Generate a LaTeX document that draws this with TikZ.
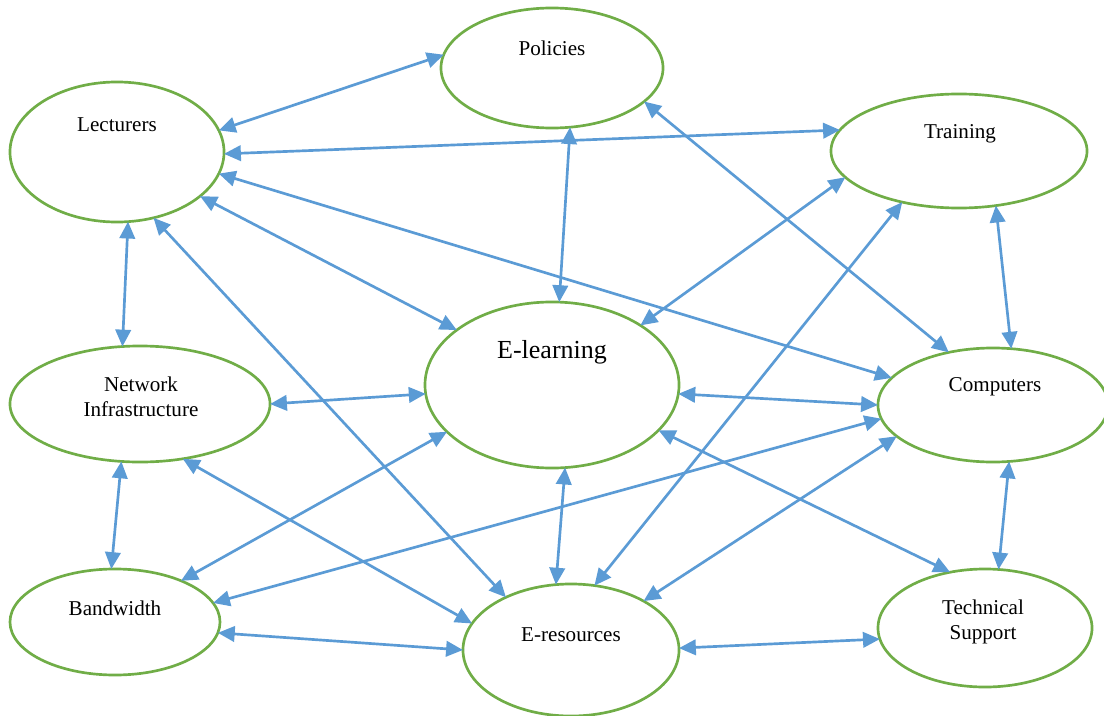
\documentclass[tikz,border=0pt]{standalone}
\usepackage{fontspec}
\setmainfont{Liberation Serif}
\usepackage{tikz}
\usetikzlibrary{shapes.geometric, arrows.meta}
\definecolor{leafgreen}{RGB}{112,173,71}
\definecolor{lineblue}{RGB}{91,155,213}

\begin{document}
\begin{tikzpicture}[x=0.025cm, y=-0.025cm, line join=round,
factor/.style={ellipse, draw=leafgreen, line width=1.9pt, inner sep=0pt, outer sep=0pt},
txt/.style={align=center, font=\fontsize{15pt}{17.5pt}\selectfont},
link/.style={{Triangle[length=12pt,width=11pt]}-{Triangle[length=12pt,width=11pt]},
draw=lineblue, line width=1.9pt}]
  \useasboundingbox (0,0) rectangle (1104,716);
  % top row
  \node[factor, minimum width=5.55cm, minimum height=3cm]    (pol) at (552,68)  {};
  \node[factor, minimum width=5.35cm, minimum height=3.5cm]  (lec) at (117,152) {};
  \node[factor, minimum width=6.4cm,  minimum height=2.85cm] (trn) at (959,151) {};
  % middle row
  \node[factor, minimum width=6.35cm, minimum height=4.15cm] (elr) at (552,385) {};
  \node[factor, minimum width=6.5cm,  minimum height=2.9cm]  (net) at (140,404) {};
  \node[factor, minimum width=5.75cm, minimum height=2.85cm] (com) at (993,405) {};
  % bottom row
  \node[factor, minimum width=5.25cm, minimum height=2.65cm] (bnd) at (115,622) {};
  \node[factor, minimum width=5.4cm,  minimum height=3.3cm]  (ers) at (571,650) {};
  \node[factor, minimum width=5.35cm, minimum height=2.95cm] (tec) at (985,628) {};
  % labels
  \node[txt] (tpol) at (552,48)  {Policies};
  \node[txt] (tlec) at (117,125) {Lecturers};
  \node[txt] (ttrn) at (960,134) {Training};
  \node[txt, font=\fontsize{18.5pt}{22pt}\selectfont] (telr) at (552,352) {E-learning};
  \node[txt] (tnet) at (141,397) {Network\\Infrastructure};
  \node[txt] (tcom) at (995,387) {Computers};
  \node[txt] (tbnd) at (115,608) {Bandwidth};
  \node[txt] (ters) at (571,635) {E-resources};
  \node[txt] (ttec) at (983,622) {Technical\\Support};

\foreach \from/\to in {lec.12/pol.173, lec.-1/trn.170, pol.-73/elr.85, pol.-20/com.130,
    lec.-28/elr.150, lec.-12/com.165, lec.-61/ers.141, lec.-81/net.107,
    trn.-167/elr.34, trn.-56/com.72, trn.-138/ers.70, net.0/elr.184,
    elr.-4/com.180, net.-52/ers.165, net.-108/bnd.94, elr.204/bnd.32,
    com.187/bnd.11, elr.-81/ers.103, elr.-23/tec.122, com.198/ers.34,
    com.-74/tec.77, bnd.-6/ers.180, ers.1/tec.186}
    \draw[link] (\from) -- (\to);
\end{tikzpicture}
\end{document}
